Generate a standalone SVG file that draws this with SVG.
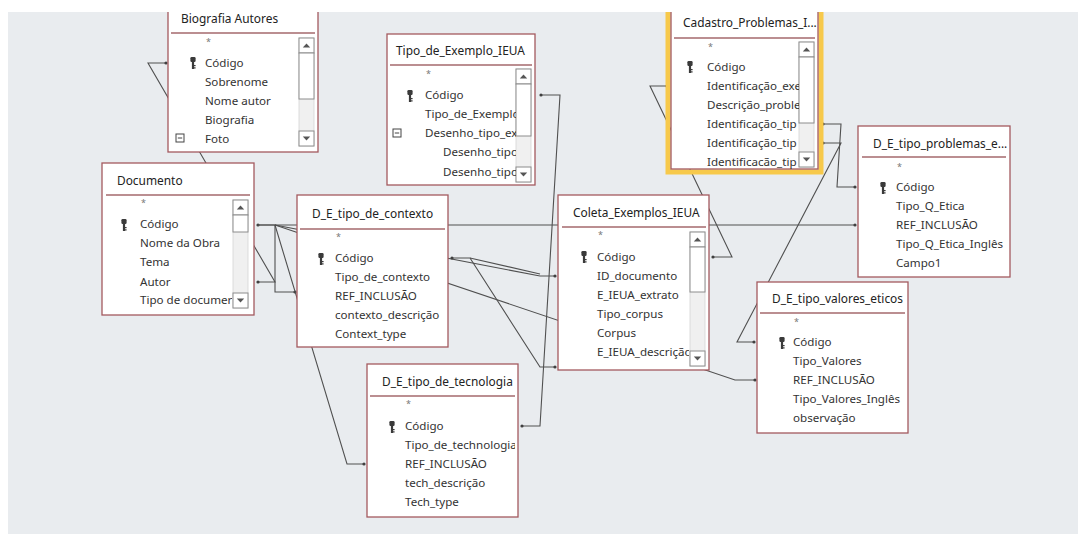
<svg xmlns="http://www.w3.org/2000/svg" xmlns:xlink="http://www.w3.org/1999/xlink" width="1078" height="534" viewBox="0 0 1078 534">
  <style>
    .bg { fill: #E9ECEF; }
    .box { fill: #FFFFFF; stroke: #A4595E; stroke-width: 1.3; }
    .sep { stroke: #A4696C; stroke-width: 1.4; }
    .title { font-family: "Noto Sans", "Open Sans", sans-serif; font-size: 11.9px; fill: #222222; }
    .fld { font-family: "Noto Sans", "Open Sans", sans-serif; font-size: 11.6px; fill: #333333; }
    .star { font-family: "Noto Sans", sans-serif; font-size: 9px; fill: #777777; }
    .conn path { fill: none; stroke: #505050; stroke-width: 1.1; }
    .track { fill: #F0F0F0; stroke: #D4D4D4; stroke-width: 0.8; }
    .btn { fill: #FFFFFF; stroke: #8C8C8C; stroke-width: 1; }
    .tri { fill: #555555; }
    .sel { fill: none; stroke: #F7C94B; stroke-width: 5; }
  </style>
  <defs>
    <marker id="dot" viewBox="0 0 4 4" refX="2" refY="2" markerWidth="4" markerHeight="4" markerUnits="userSpaceOnUse">
      <circle cx="2" cy="2" r="1.6" fill="#404040"/>
    </marker>
    <!-- primary key glyph -->
    <g id="key">
      <rect x="-2.6" y="-6" width="5.2" height="5" rx="1.2" fill="#3A3A3A"/>
      <rect x="-1.1" y="-1.5" width="2.2" height="7.5" fill="#3A3A3A"/>
      <rect x="1" y="2" width="1.6" height="1.2" fill="#3A3A3A"/>
      <rect x="1" y="4.3" width="1.6" height="1.2" fill="#3A3A3A"/>
    </g>
    <!-- collapsed attachment box -->
    <g id="minus">
      <rect x="-4" y="-4" width="8" height="8" fill="none" stroke="#444" stroke-width="1"/>
      <line x1="-2.2" y1="0" x2="2.2" y2="0" stroke="#444" stroke-width="1"/>
    </g>
    <g id="sbUp">
      <rect class="btn" x="0" y="0" width="15" height="15"/>
      <path class="tri" d="M3.8,9.5 L7.5,5.5 L11.2,9.5 Z"/>
    </g>
    <g id="sbDown">
      <rect class="btn" x="0" y="0" width="15" height="15"/>
      <path class="tri" d="M3.8,5.5 L7.5,9.5 L11.2,5.5 Z"/>
    </g>
    <clipPath id="clipBio"><rect x="168" y="0" width="130" height="160"/></clipPath>
    <clipPath id="clipTipo"><rect x="387" y="30" width="129" height="160"/></clipPath>
    <clipPath id="clipCad"><rect x="671" y="0" width="128" height="170"/></clipPath>
    <clipPath id="clipDoc"><rect x="102" y="160" width="130" height="155"/></clipPath>
    <clipPath id="clipCol"><rect x="558" y="195" width="131" height="175"/></clipPath>
    <clipPath id="clipTec"><rect x="367" y="364" width="148" height="153"/></clipPath>
  </defs>

  <rect class="bg" x="0" y="0" width="1078" height="534"/>

  <!-- relationship lines -->
  <g id="connectors" class="conn">
    <path d="M166,63 H148 L275,282 H258" marker-start="url(#dot)" marker-end="url(#dot)"/>
    <path d="M258,225 H855" marker-start="url(#dot)" marker-end="url(#dot)"/>
    <path d="M258,225 H275 V292 H295" marker-end="url(#dot)"/>
    <path d="M275,225 L347,464 H364" marker-end="url(#dot)"/>
    <path d="M275,225 L540,276 H555" marker-end="url(#dot)"/>
    <path d="M275,225 L735,380 H755" marker-end="url(#dot)"/>
    <path d="M452,258 H470 L540,367 H555" marker-start="url(#dot)" marker-end="url(#dot)"/>
    <path d="M470,258 L540,274"/>
    <path d="M541,95 H560 L540,426 H522" marker-start="url(#dot)" marker-end="url(#dot)"/>
    <path d="M667,86 H650 L732,257 H713" marker-start="url(#dot)" marker-end="url(#dot)"/>
    <path d="M823,124 H841 L837,187 H855" marker-start="url(#dot)" marker-end="url(#dot)"/>
    <path d="M823,143 H841 L737,342 H754" marker-start="url(#dot)" marker-end="url(#dot)"/>
  </g>

  <!-- Biografia Autores -->
  <g id="biografia-autores">
    <rect class="box" x="168" y="-6" width="150" height="158"/>
    <text class="title" x="181" y="23">Biografia Autores</text>
    <line class="sep" x1="171" y1="33" x2="315" y2="33"/>
    <rect class="track" x="299" y="38" width="15" height="108"/>
    <use href="#sbUp" x="299" y="38"/>
    <rect class="btn" x="299" y="53" width="15" height="46"/>
    <use href="#sbDown" x="299" y="131"/>
    <g clip-path="url(#clipBio)">
      <text class="star" x="206" y="45">*</text>
      <text class="fld" x="205" y="67">Código</text>
      <text class="fld" x="205" y="86">Sobrenome</text>
      <text class="fld" x="205" y="105">Nome autor</text>
      <text class="fld" x="205" y="124">Biografia</text>
      <text class="fld" x="205" y="143">Foto</text>
    </g>
    <use href="#key" x="193" y="63"/>
    <use href="#minus" x="180" y="138"/>
  </g>

  <!-- Tipo_de_Exemplo_IEUA -->
  <g id="tipo-de-exemplo-ieua">
    <rect class="box" x="387" y="34" width="148" height="151"/>
    <text class="title" x="396" y="55">Tipo_de_Exemplo_IEUA</text>
    <line class="sep" x1="390" y1="65" x2="532" y2="65"/>
    <rect class="track" x="516" y="69" width="15" height="113"/>
    <use href="#sbUp" x="516" y="69"/>
    <rect class="btn" x="516" y="84" width="15" height="52"/>
    <use href="#sbDown" x="516" y="167"/>
    <g clip-path="url(#clipTipo)">
      <text class="star" x="426" y="77">*</text>
      <text class="fld" x="425" y="99">Código</text>
      <text class="fld" x="425" y="118">Tipo_de_Exemplo</text>
      <text class="fld" x="425" y="137">Desenho_tipo_ex</text>
      <text class="fld" x="443" y="156">Desenho_tipo</text>
      <text class="fld" x="443" y="176">Desenho_tipo</text>
    </g>
    <use href="#key" x="410" y="96"/>
    <use href="#minus" x="397" y="133"/>
  </g>

  <!-- Cadastro_Problemas (selected table) -->
  <g id="cadastro-problemas">
    <rect class="sel" x="668" y="-8" width="153" height="180"/>
    <rect class="box" x="671" y="-6" width="147" height="175" stroke="#B8876A"/>
    <text class="title" x="683" y="27">Cadastro_Problemas_I...</text>
    <line class="sep" x1="674" y1="38" x2="815" y2="38"/>
    <rect class="track" x="799" y="42" width="15" height="125"/>
    <use href="#sbUp" x="799" y="42"/>
    <rect class="btn" x="799" y="57" width="15" height="66"/>
    <use href="#sbDown" x="799" y="152"/>
    <g clip-path="url(#clipCad)">
      <text class="star" x="708" y="50">*</text>
      <text class="fld" x="707" y="71">Código</text>
      <text class="fld" x="707" y="90">Identificação_exe</text>
      <text class="fld" x="707" y="109">Descrição_proble</text>
      <text class="fld" x="707" y="128">Identificação_tip</text>
      <text class="fld" x="707" y="147">Identificação_tip</text>
      <text class="fld" x="707" y="166">Identificacão_tip</text>
    </g>
    <use href="#key" x="690" y="67"/>
  </g>

  <!-- D_E_tipo_problemas_e... -->
  <g id="d-e-tipo-problemas">
    <rect class="box" x="858" y="126" width="152" height="151"/>
    <text class="title" x="873" y="148">D_E_tipo_problemas_e...</text>
    <line class="sep" x1="862" y1="157" x2="1006" y2="157"/>
    <text class="star" x="897" y="170">*</text>
    <text class="fld" x="896" y="191">Código</text>
    <text class="fld" x="896" y="210">Tipo_Q_Etica</text>
    <text class="fld" x="896" y="229">REF_INCLUSÃO</text>
    <text class="fld" x="896" y="248">Tipo_Q_Etica_Inglês</text>
    <text class="fld" x="896" y="267">Campo1</text>
    <use href="#key" x="883" y="188"/>
  </g>

  <!-- Documento -->
  <g id="documento">
    <rect class="box" x="102" y="163" width="152" height="152"/>
    <text class="title" x="117" y="185">Documento</text>
    <line class="sep" x1="106" y1="195" x2="250" y2="195"/>
    <rect class="track" x="233" y="200" width="15" height="108"/>
    <use href="#sbUp" x="233" y="200"/>
    <rect class="btn" x="233" y="215" width="15" height="17"/>
    <use href="#sbDown" x="233" y="293"/>
    <g clip-path="url(#clipDoc)">
      <text class="star" x="141" y="206">*</text>
      <text class="fld" x="140" y="228">Código</text>
      <text class="fld" x="140" y="247">Nome da Obra</text>
      <text class="fld" x="140" y="266">Tema</text>
      <text class="fld" x="140" y="286">Autor</text>
      <text class="fld" x="140" y="304">Tipo de documer</text>
    </g>
    <use href="#key" x="124" y="225"/>
  </g>

  <!-- D_E_tipo_de_contexto -->
  <g id="d-e-tipo-de-contexto">
    <rect class="box" x="297" y="195" width="151" height="152"/>
    <text class="title" x="312" y="218">D_E_tipo_de_contexto</text>
    <line class="sep" x1="300" y1="229" x2="445" y2="229"/>
    <text class="star" x="336" y="240">*</text>
    <text class="fld" x="335" y="262">Código</text>
    <text class="fld" x="335" y="281">Tipo_de_contexto</text>
    <text class="fld" x="335" y="300">REF_INCLUSÃO</text>
    <text class="fld" x="335" y="319">contexto_descrição</text>
    <text class="fld" x="335" y="338">Context_type</text>
    <use href="#key" x="321" y="259"/>
  </g>

  <!-- Coleta_Exemplos_IEUA -->
  <g id="coleta-exemplos-ieua">
    <rect class="box" x="558" y="195" width="151" height="175"/>
    <text class="title" x="573" y="217">Coleta_Exemplos_IEUA</text>
    <line class="sep" x1="562" y1="227" x2="706" y2="227"/>
    <rect class="track" x="690" y="232" width="15" height="134"/>
    <use href="#sbUp" x="690" y="232"/>
    <rect class="btn" x="690" y="247" width="15" height="45"/>
    <use href="#sbDown" x="690" y="351"/>
    <g clip-path="url(#clipCol)">
      <text class="star" x="598" y="238">*</text>
      <text class="fld" x="597" y="261">Código</text>
      <text class="fld" x="597" y="280">ID_documento</text>
      <text class="fld" x="597" y="299">E_IEUA_extrato</text>
      <text class="fld" x="597" y="318">Tipo_corpus</text>
      <text class="fld" x="597" y="337">Corpus</text>
      <text class="fld" x="597" y="356">E_IEUA_descrição</text>
    </g>
    <use href="#key" x="584" y="257"/>
  </g>

  <!-- D_E_tipo_valores_eticos -->
  <g id="d-e-tipo-valores-eticos">
    <rect class="box" x="757" y="282" width="151" height="151"/>
    <text class="title" x="772" y="303">D_E_tipo_valores_eticos</text>
    <line class="sep" x1="760" y1="313" x2="905" y2="313"/>
    <text class="star" x="794" y="325">*</text>
    <text class="fld" x="793" y="346">Código</text>
    <text class="fld" x="793" y="365">Tipo_Valores</text>
    <text class="fld" x="793" y="384">REF_INCLUSÃO</text>
    <text class="fld" x="793" y="403">Tipo_Valores_Inglês</text>
    <text class="fld" x="793" y="422">observação</text>
    <use href="#key" x="782" y="343"/>
  </g>

  <!-- D_E_tipo_de_tecnologia -->
  <g id="d-e-tipo-de-tecnologia">
    <rect class="box" x="367" y="364" width="151" height="153"/>
    <text class="title" x="382" y="386">D_E_tipo_de_tecnologia</text>
    <line class="sep" x1="370" y1="396" x2="515" y2="396"/>
    <g clip-path="url(#clipTec)">
      <text class="star" x="406" y="407">*</text>
      <text class="fld" x="405" y="430">Código</text>
      <text class="fld" x="405" y="449">Tipo_de_technologia</text>
      <text class="fld" x="405" y="468">REF_INCLUSÃO</text>
      <text class="fld" x="405" y="487">tech_descrição</text>
      <text class="fld" x="405" y="506">Tech_type</text>
    </g>
    <use href="#key" x="392" y="427"/>
  </g>

  <!-- window margins -->
  <rect x="0" y="0" width="1078" height="12" fill="#FFFFFF"/>
  <rect x="0" y="0" width="8" height="534" fill="#FFFFFF"/>
</svg>
